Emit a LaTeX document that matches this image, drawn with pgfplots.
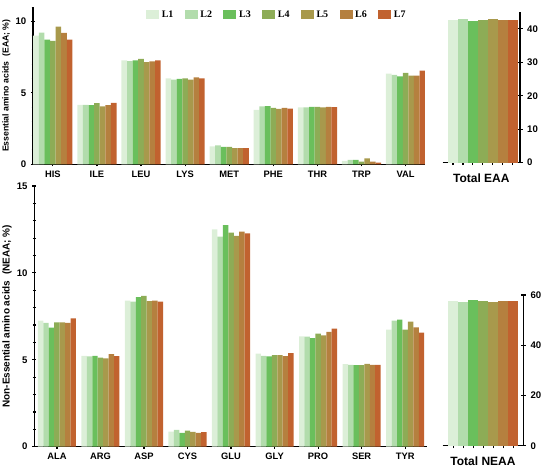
\documentclass[border=0pt]{standalone}
\usepackage{fontspec}
\setmainfont{Liberation Sans}
\newfontfamily\legfont{Liberation Serif}
\usepackage{pgfplots}
\usepackage{pgfplotstable}
\pgfplotsset{compat=1.18}
\definecolor{c1}{HTML}{DCEFD8}
\definecolor{c2}{HTML}{B2DCAC}
\definecolor{c3}{HTML}{6ABF5C}
\definecolor{c4}{HTML}{8DAC56}
\definecolor{c5}{HTML}{A8994C}
\definecolor{c6}{HTML}{B5803F}
\definecolor{c7}{HTML}{C1622F}

\pgfplotstableread{
x L1 L2 L3 L4 L5 L6 L7
0 9.01 9.22 8.73 8.64 9.65 9.20 8.73
1 4.16 4.16 4.14 4.28 4.05 4.14 4.30
2 7.27 7.22 7.27 7.39 7.15 7.20 7.27
3 6.02 5.93 5.98 6.02 5.93 6.09 6.02
4 1.25 1.32 1.22 1.22 1.13 1.13 1.13
5 3.81 4.05 4.07 3.95 3.88 3.95 3.90
6 3.98 3.98 4.02 4.02 3.98 4.02 4.00
7 0.24 0.31 0.31 0.19 0.42 0.19 0.12
8 6.35 6.26 6.16 6.40 6.21 6.21 6.56
}\eaa

\pgfplotstableread{
x L1 L2 L3 L4 L5 L6 L7
0 7.25 7.12 6.85 7.15 7.15 7.12 7.38
1 5.23 5.19 5.23 5.12 5.08 5.33 5.21
2 8.40 8.35 8.60 8.67 8.37 8.40 8.35
3 0.87 0.96 0.79 0.92 0.85 0.79 0.83
4 12.50 12.08 12.75 12.31 12.13 12.38 12.27
5 5.35 5.23 5.19 5.27 5.27 5.21 5.38
6 6.35 6.33 6.25 6.50 6.40 6.60 6.79
7 4.75 4.71 4.69 4.69 4.77 4.71 4.71
8 6.73 7.25 7.31 6.73 7.19 6.87 6.56
}\neaa

\pgfplotsset{
  base/.style={
    scale only axis,
    tick style={line width=0.9pt,black},
    major tick length=3pt,
    minor tick length=2pt,
    tick align=outside,
    ymin=0,
    ybar, bar shift=0pt,
    /pgf/number format/assume math mode=true,
    yticklabel style={font=\bfseries\fontsize{7.2}{8}\selectfont},
    xticklabel style={font=\bfseries\fontsize{7}{8}\selectfont},
  },
  lines/.style={
    every outer x axis line/.append style={-, line width=1.1pt},
    every outer y axis line/.append style={-, line width=1.1pt},
    axis line style={-, line width=1.1pt},
  },
  left/.style={base,
    axis x line=bottom, axis y line=left, lines,
    bar width=0.127,
    xtick={0,...,8},
    minor y tick num=4,
    ytick={0,5,10,15},
  },
  right/.style={base,
    axis x line=bottom, axis y line=right, lines,
    bar width=1,
    major tick length=3.75pt,
    xtick={1,...,7},
    xticklabels={{},{},{},{},{},{},{}},
    xlabel style={font=\bfseries\fontsize{9}{10}\selectfont, at={(axis description cs:0.5,0)}, anchor=north, yshift=-5pt},
  },
}

\begin{document}
\begin{tikzpicture}
\path[use as bounding box] (0,0) rectangle (412.5pt,355.5pt);

% top-left EAA
\begin{axis}[left,
  at={(24.75pt,232.3pt)}, anchor=south west,
  width=294pt, height=117.75pt,
  xmin=-0.45, xmax=8.44, ymax=11,
  xticklabels={HIS,ILE,LEU,LYS,MET,PHE,THR,TRP,VAL},
  ylabel={Essential amino acids\ \ (EAA; \%)},
  ylabel style={font=\bfseries\fontsize{6.5}{7}\selectfont, yshift=-3pt},
  legend style={draw=none, fill=none, at={(0.288,0.952)}, anchor=west,
    font=\legfont\bfseries\fontsize{7.5}{8}\selectfont,
    legend columns=7, inner sep=0pt,
    /tikz/every even column/.append style={column sep=6.5pt}},
  legend image code/.code={\fill[#1] (0pt,-3.4pt) rectangle (9.75pt,3.4pt);},
]
\addplot[fill=c1, draw=none] table[x expr=\thisrow{x}-0.381, y=L1]{\eaa};
\addplot[fill=c2, draw=none] table[x expr=\thisrow{x}-0.254, y=L2]{\eaa};
\addplot[fill=c3, draw=none] table[x expr=\thisrow{x}-0.127, y=L3]{\eaa};
\addplot[fill=c4, draw=none] table[x expr=\thisrow{x}, y=L4]{\eaa};
\addplot[fill=c5, draw=none] table[x expr=\thisrow{x}+0.127, y=L5]{\eaa};
\addplot[fill=c6, draw=none] table[x expr=\thisrow{x}+0.254, y=L6]{\eaa};
\addplot[fill=c7, draw=none] table[x expr=\thisrow{x}+0.381, y=L7]{\eaa};
\legend{L1,L2,L3,L4,L5,L6,L7}
\end{axis}

% top-right Total EAA
\begin{axis}[right,
  at={(332pt,233.5pt)}, anchor=south west,
  width=58pt, height=113pt,
  xmin=-0.03, xmax=7.73, ymax=45,
  ytick={0,10,20,30,40},
  xlabel={Total EAA},
]
\addplot[fill=c1, draw=none] coordinates {(1,42.7)};
\addplot[fill=c2, draw=none] coordinates {(2,43.0)};
\addplot[fill=c3, draw=none] coordinates {(3,42.4)};
\addplot[fill=c4, draw=none] coordinates {(4,42.7)};
\addplot[fill=c5, draw=none] coordinates {(5,43.0)};
\addplot[fill=c6, draw=none] coordinates {(6,42.7)};
\addplot[fill=c7, draw=none] coordinates {(7,42.6)};
\end{axis}

% bottom-left NEAA
\begin{axis}[left,
  at={(25.7pt,20.5pt)}, anchor=south west,
  width=294.5pt, height=195.5pt,
  xmin=-0.52, xmax=8.5, ymax=15,
  bar width=0.125,
  xticklabels={ALA,ARG,ASP,CYS,GLU,GLY,PRO,SER,TYR},
  ylabel={Non-Essential amino acids\ \ (NEAA; \%)},
  ylabel style={font=\bfseries\fontsize{7.5}{8}\selectfont, yshift=-3pt},
]
\addplot[fill=c1, draw=none] table[x expr=\thisrow{x}-0.375, y=L1]{\neaa};
\addplot[fill=c2, draw=none] table[x expr=\thisrow{x}-0.25, y=L2]{\neaa};
\addplot[fill=c3, draw=none] table[x expr=\thisrow{x}-0.125, y=L3]{\neaa};
\addplot[fill=c4, draw=none] table[x expr=\thisrow{x}, y=L4]{\neaa};
\addplot[fill=c5, draw=none] table[x expr=\thisrow{x}+0.125, y=L5]{\neaa};
\addplot[fill=c6, draw=none] table[x expr=\thisrow{x}+0.25, y=L6]{\neaa};
\addplot[fill=c7, draw=none] table[x expr=\thisrow{x}+0.375, y=L7]{\neaa};
\end{axis}

% bottom-right Total NEAA
\begin{axis}[right,
  at={(332pt,21.2pt)}, anchor=south west,
  width=60.5pt, height=113pt,
  xmin=-0.06, xmax=8.0, ymax=60,
  ytick={0,20,40,60},
  xlabel={Total NEAA},
]
\addplot[fill=c1, draw=none] coordinates {(1,57.6)};
\addplot[fill=c2, draw=none] coordinates {(2,57.2)};
\addplot[fill=c3, draw=none] coordinates {(3,57.9)};
\addplot[fill=c4, draw=none] coordinates {(4,57.5)};
\addplot[fill=c5, draw=none] coordinates {(5,57.1)};
\addplot[fill=c6, draw=none] coordinates {(6,57.5)};
\addplot[fill=c7, draw=none] coordinates {(7,57.6)};
\end{axis}
\end{tikzpicture}
\end{document}
